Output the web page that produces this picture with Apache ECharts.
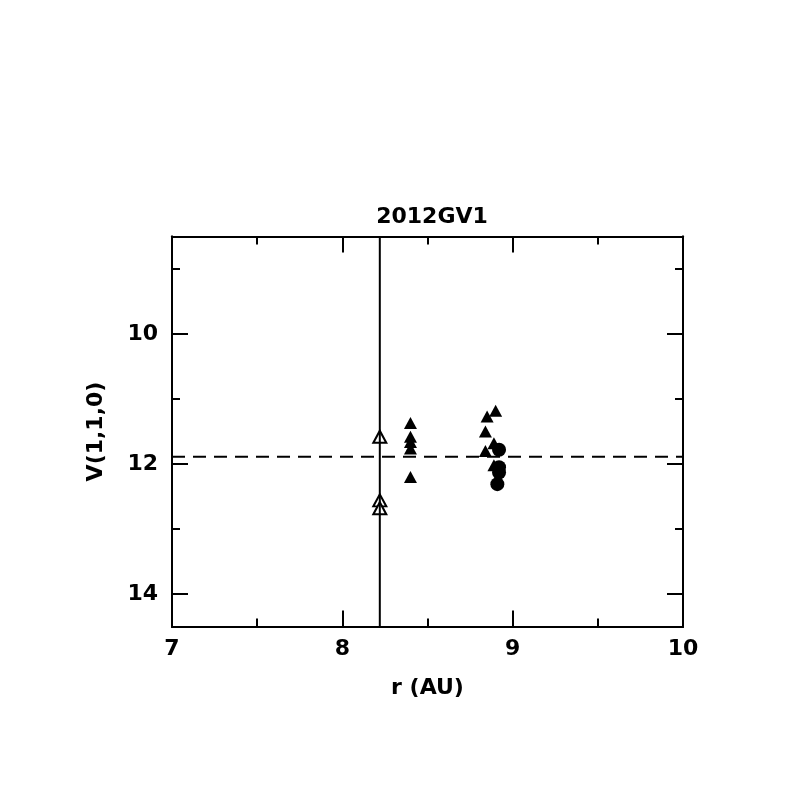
<!DOCTYPE html>
<html>
<head>
<meta charset="utf-8">
<script src="https://cdn.jsdelivr.net/npm/echarts@6/dist/echarts.min.js"></script>
<style>html,body{margin:0;padding:0;background:#fff}#c{width:797px;height:797px}</style>
</head>
<body>
<div id="c"></div>
<script>
const titleText = '2012GV1';
const xName = 'r (AU)';
const yName = 'V(1,1,0)';
const xMajorTicks = [7, 8, 9, 10];
const xMinorTicks = [7.5, 8.5, 9.5];
const yMajorTicks = [10, 12, 14];
const yMinorTicks = [9, 11, 13];
const meanV = 11.89;
const rLine = 8.22;
// open triangles (r, V)
const openTriR = [8.22, 8.22, 8.22];
const openTriV = [11.58, 12.56, 12.68];
// filled triangles
const filledTriR = [8.40, 8.40, 8.40, 8.40, 8.40, 8.90, 8.85, 8.84, 8.89, 8.84, 8.89];
const filledTriV = [11.37, 11.58, 11.66, 11.76, 12.20, 11.18, 11.27, 11.50, 11.68, 11.80, 12.02];
// filled circles
const circR = [8.92, 8.92, 8.92, 8.91];
const circV = [11.78, 12.05, 12.13, 12.31];

const zip = (a, b) => a.map((v, i) => [v, b[i]]);
const FONT = 'DejaVu Sans';
const xMin = 7, xMax = 10, yMin = 8.5, yMax = 14.5;

function xAx(pos, ticks, len, labels, name) {
  return {
    type: 'value', min: xMin, max: xMax, position: pos,
    name: name || '', nameLocation: 'middle', nameGap: 51,
    nameTextStyle: {fontFamily: FONT, fontSize: 22, fontWeight: 'bold', color: '#000'},
    axisLine: {show: true, onZero: false, lineStyle: {color: '#000', width: 2}},
    axisTick: {show: true, inside: true, length: len, customValues: ticks, lineStyle: {color: '#000', width: 2}},
    axisLabel: {show: labels, customValues: ticks, margin: 12, fontFamily: FONT, fontSize: 22, fontWeight: 'bold', color: '#000'},
    splitLine: {show: false}
  };
}
function yAx(pos, ticks, len, labels, name) {
  return {
    type: 'value', min: yMin, max: yMax, inverse: true, position: pos,
    name: name || '', nameLocation: 'middle', nameGap: 65, nameRotate: 90,
    nameTextStyle: {fontFamily: FONT, fontSize: 22, fontWeight: 'bold', color: '#000'},
    axisLine: {show: true, onZero: false, lineStyle: {color: '#000', width: 2}},
    axisTick: {show: true, inside: true, length: len, customValues: ticks, lineStyle: {color: '#000', width: 2}},
    axisLabel: {show: labels, customValues: ticks, margin: 14, fontFamily: FONT, fontSize: 22, fontWeight: 'bold', color: '#000'},
    splitLine: {show: false}
  };
}

const chart = echarts.init(document.getElementById('c'), null, {renderer: 'canvas'});
chart.setOption({
  animation: false,
  backgroundColor: '#fff',
  title: {
    text: titleText, left: 427, top: 201, textAlign: 'center',
    textStyle: {fontFamily: FONT, fontSize: 22, fontWeight: 'bold', color: '#000'}
  },
  grid: {left: 172, top: 236.5, width: 511, height: 390, containLabel: false},
  xAxis: [
    xAx('bottom', xMajorTicks, 16, true, xName),
    xAx('bottom', xMinorTicks, 8, false),
    xAx('top', xMajorTicks, 16, false),
    xAx('top', xMinorTicks, 8, false)
  ],
  yAxis: [
    yAx('left', yMajorTicks, 16, true, yName),
    yAx('left', yMinorTicks, 8, false),
    yAx('right', yMajorTicks, 16, false),
    yAx('right', yMinorTicks, 8, false)
  ],
  series: [
    {type: 'line', data: [[xMin, meanV], [xMax, meanV]], symbol: 'none',
     lineStyle: {color: '#000', width: 2, type: [13, 8]}, silent: true},
    {type: 'line', data: [[rLine, yMin], [rLine, yMax]], symbol: 'none',
     lineStyle: {color: '#000', width: 2}, silent: true},
    {type: 'scatter', data: zip(openTriR, openTriV), symbol: 'triangle', symbolSize: [13, 12],
     itemStyle: {color: '#fff', borderColor: '#000', borderWidth: 2, opacity: 1}},
    {type: 'scatter', data: zip(filledTriR, filledTriV), symbol: 'triangle', symbolSize: [13, 12],
     itemStyle: {color: '#000', opacity: 1}},
    {type: 'scatter', data: zip(circR, circV), symbol: 'circle', symbolSize: 14,
     itemStyle: {color: '#000', opacity: 1}}
  ]
});
</script>
</body>
</html>
